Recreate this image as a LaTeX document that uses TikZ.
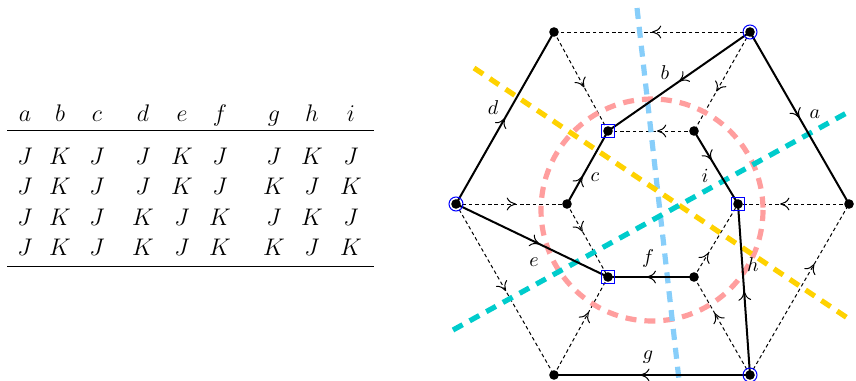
\documentclass[tikz,border=0pt]{standalone}
\usetikzlibrary{arrows.meta,decorations.markings}
\definecolor{pinkc}{RGB}{255,158,158}
\definecolor{skyc}{RGB}{135,206,250}
\definecolor{goldc}{RGB}{255,210,0}
\definecolor{tealc}{RGB}{0,204,204}
\begin{document}
\begin{tikzpicture}[x=0.5pt,y=-0.5pt,
  >={To[length=4.6pt,width=6.4pt,line width=0.5pt]},
  arr/.style={postaction={decorate,decoration={markings,mark=at position #1 with {\arrow{>}}}}},
  thinedge/.style={line width=0.5pt,dash pattern=on 1.8pt off 1.4pt},
  solidedge/.style={line width=1pt},
  band/.style={line width=2.6pt,dash pattern=on 5.5pt off 4pt},
  dot/.style={circle,fill=black,inner sep=0pt,minimum size=4.8pt},
  cmark/.style={circle,draw=blue,line width=0.5pt,inner sep=0pt,minimum size=7pt},
  smark/.style={rectangle,draw=blue,line width=0.5pt,inner sep=0pt,minimum size=6.2pt},
  lab/.style={inner sep=0pt,font=\normalsize},
  tab/.style={anchor=base,inner sep=0pt,font=\large},
  rule/.style={line width=0.6pt}]
\useasboundingbox (0,0) rectangle (856,380);
% ---------- table ----------
\foreach \x/\l [count=\i] in {25/a,60/b,97/c,143/d,182/e,220/f,274/g,312/h,351/i}
  \node[tab] (h\i) at (\x,121.5) {$\l$};
\coordinate (r1a) at (7,130.5);
\coordinate (r1b) at (374,130.5);
\coordinate (r2a) at (7,266.5);
\coordinate (r2b) at (374,266.5);
\draw[rule] (r1a) -- (r1b);
\draw[rule] (r2a) -- (r2b);
\foreach \x/\e [count=\i] in {25/J,60/K,97/J,143/J,182/K,220/J,274/J,312/K,351/J}
  \node[tab] (ra\i) at (\x,164) {$\e$};
\foreach \x/\e [count=\i] in {25/J,60/K,97/J,143/J,182/K,220/J,274/K,312/J,351/K}
  \node[tab] (rb\i) at (\x,194.5) {$\e$};
\foreach \x/\e [count=\i] in {25/J,60/K,97/J,143/K,182/J,220/K,274/J,312/K,351/J}
  \node[tab] (rc\i) at (\x,225) {$\e$};
\foreach \x/\e [count=\i] in {25/J,60/K,97/J,143/K,182/J,220/K,274/K,312/J,351/K}
  \node[tab] (rd\i) at (\x,255.5) {$\e$};
% ---------- graph vertices ----------
\coordinate (O1) at (554,32);
\coordinate (O2) at (750,32);
\coordinate (O3) at (849,204);
\coordinate (O4) at (750,375);
\coordinate (O5) at (554,375);
\coordinate (O6) at (456,204);
\coordinate (I1) at (608,131);
\coordinate (I2) at (694,131);
\coordinate (I3) at (738,204);
\coordinate (I4) at (694,277);
\coordinate (I5) at (608,277);
\coordinate (I6) at (567,204);
% thin dashed edges
\draw[thinedge,arr=0.5]  (O2) -- (O1);
\draw[thinedge,arr=0.56] (O1) -- (I1);
\draw[thinedge,arr=0.6]  (O2) -- (I2);
\draw[thinedge,arr=0.43] (I2) -- (I1);
\draw[thinedge,arr=0.54] (O6) -- (I6);
\draw[thinedge,arr=0.62] (O3) -- (I3);
\draw[thinedge,arr=0.38] (I6) -- (I5);
\draw[thinedge,arr=0.51] (O6) -- (O5);
\draw[thinedge,arr=0.64] (O5) -- (I5);
\draw[thinedge,arr=0.63] (O4) -- (I4);
\draw[thinedge,arr=0.33] (I4) -- (I3);
\draw[thinedge,arr=0.65] (O4) -- (O3);
% coloured cut lines
\coordinate (P0) at (652,210);
\draw[band,pinkc] (P0) circle (111);
\coordinate (S1) at (637,8);
\coordinate (S2) at (679,380);
\draw[band,skyc] (S1) -- (S2);
\coordinate (Y1) at (474,68);
\coordinate (Y2) at (852,321);
\draw[band,goldc] (Y1) -- (Y2);
\coordinate (T1) at (453,330);
\coordinate (T2) at (852,110);
\draw[band,tealc] (T1) -- (T2);
% solid edges
\draw[solidedge,arr=0.5]  (O2) -- (O3);
\draw[solidedge,arr=0.5]  (O2) -- (I1);
\draw[solidedge,arr=0.38] (I6) -- (I1);
\draw[solidedge,arr=0.5]  (O6) -- (O1);
\draw[solidedge,arr=0.55] (O6) -- (I5);
\draw[solidedge,arr=0.55] (I4) -- (I5);
\draw[solidedge,arr=0.56] (O4) -- (O5);
\draw[solidedge,arr=0.49] (O4) -- (I3);
\draw[solidedge,arr=0.4]  (I2) -- (I3);
% dots
\foreach \v in {O1,O2,O3,O4,O5,O6,I1,I2,I3,I4,I5,I6}
  \node[dot] (d\v) at (\v) {};
\node[cmark] (mO2) at (O2) {};
\node[cmark] (mO6) at (O6) {};
\node[cmark] (mO4) at (O4) {};
\node[smark] (mI1) at (I1) {};
\node[smark] (mI3) at (I3) {};
\node[smark] (mI5) at (I5) {};
% labels
\node[lab] (la) at (815,114) {$a$};
\node[lab] (lb) at (665,73) {$b$};
\node[lab] (lc) at (595,177) {$c$};
\node[lab] (ld) at (493,108) {$d$};
\node[lab] (le) at (534,262) {$e$};
\node[lab] (lf) at (648,258) {$f$};
\node[lab] (lg) at (648,357) {$g$};
\node[lab] (lh) at (753,265) {$h$};
\node[lab] (li) at (705,176) {$i$};
\end{tikzpicture}
\end{document}
